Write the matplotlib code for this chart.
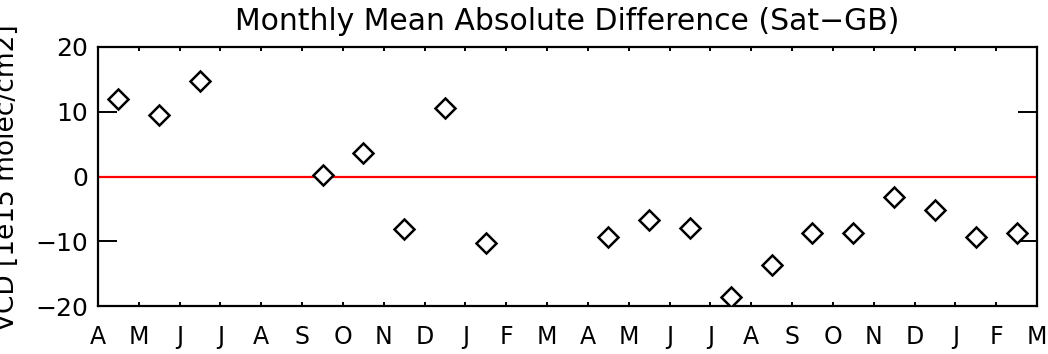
import numpy as np
import matplotlib
matplotlib.use("Agg")
import matplotlib.pyplot as plt

# month labels along the bottom (Apr .. Mar, two years)
month_labels = ["A", "M", "J", "J", "A", "S", "O", "N", "D", "J", "F", "M",
                "A", "M", "J", "J", "A", "S", "O", "N", "D", "J", "F", "M"]

# monthly mean difference, one value per month (nan = no data)
diff_values = [12.0, 9.5, 14.8, np.nan, np.nan, 0.2, 3.6, -8.1, 10.6, -10.3,
               np.nan, np.nan, -9.3, -6.7, -8.0, -18.6, -13.6, -8.8, -8.7,
               -3.2, -5.2, -9.4, -8.7]

TITLE = "Monthly Mean Absolute Difference (Sat\u2212GB)"
Y_AXIS_LABEL = "VCD [1e15 molec/cm2]"

plt.rcParams['font.family'] = ['DejaVu Sans']

fig = plt.figure(figsize=(10.48, 3.54), dpi=100)
ax = fig.add_axes([98 / 1048, 1 - 306 / 354, (1037 - 98) / 1048, (306 - 47) / 354])

x = np.arange(len(diff_values)) + 0.5
ax.plot(x, diff_values, linestyle='none', marker='D', markersize=10,
        markerfacecolor='white', markeredgecolor='black', markeredgewidth=1.8,
        zorder=3)
ax.axhline(0, color='#ff0000', linewidth=1.6, zorder=2)

ax.set_xlim(0, len(month_labels) - 1)
ax.set_ylim(-20, 20)
ax.set_xticks(np.arange(len(month_labels)))
ax.set_xticklabels(month_labels)
ax.set_yticks([-20, -10, 0, 10, 20])
ax.set_yticklabels(["\u221220", "\u221210", "0", "10", "20"])

ax.tick_params(axis='x', direction='in', length=3, width=1.4, top=True,
               labelsize=17, pad=14)
ax.tick_params(axis='y', direction='in', length=14, width=1.4, right=True,
               labelsize=18, pad=7)
for s in ax.spines.values():
    s.set_linewidth(1.6)

ax.set_title(TITLE, fontsize=21.5, pad=12)
# y label sits at the very left edge, partly cut off like the original
fig.text(7 / 1048, 0.497, Y_AXIS_LABEL, rotation=90, ha='center', va='center',
         fontsize=19)

fig.savefig("out.png", dpi=100)
plt.close(fig)
